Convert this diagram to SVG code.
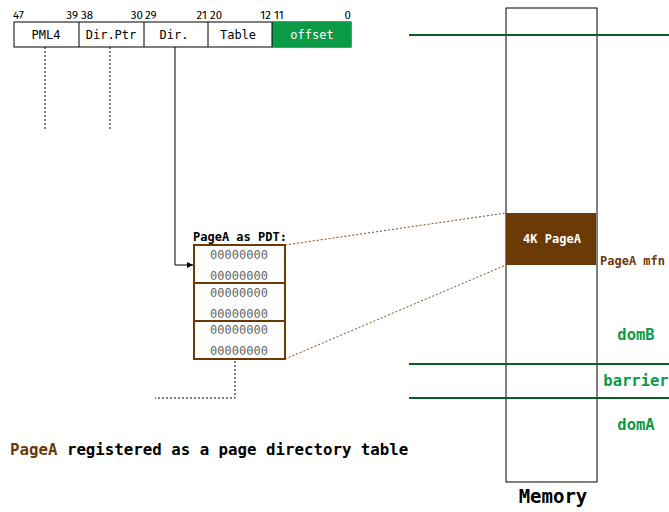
<svg xmlns="http://www.w3.org/2000/svg" width="669" height="512" viewBox="0 0 669 512">
  <defs>
    <marker id="arrow" viewBox="0 0 10 10" refX="10" refY="5" markerWidth="11" markerHeight="6" markerUnits="userSpaceOnUse" orient="auto">
      <path d="M0,0 L10,5 L0,10 z" fill="#000"/>
    </marker>
    <style>
      .bits { font-family: "Fira Sans", "Noto Sans", "DejaVu Sans", sans-serif; font-size: 11.5px; fill: #000; }
      .cell { font-family: "DejaVu Sans Mono", "Liberation Mono", monospace; font-size: 12px; fill: #000; text-anchor: middle; }
      .mono { font-family: "DejaVu Sans Mono", "Liberation Mono", monospace; font-weight: bold; }
      .zero { font-family: "DejaVu Sans Mono", "Liberation Mono", monospace; font-size: 12px; fill: #666; text-anchor: middle; }
      .dom { font-family: "DejaVu Sans Mono", monospace; font-weight: bold; font-size: 15.5px; fill: #0b9a45; text-anchor: middle; }
      .gline { stroke: #0b5e2a; stroke-width: 2; }
      .dot { stroke: #000; stroke-width: 1; stroke-dasharray: 2 2; fill: none; }
      .bdot { stroke: #7a4a1a; stroke-width: 1; stroke-dasharray: 2 2; fill: none; }
    </style>
  </defs>

  <!-- virtual address bit fields -->
  <g id="register">
    <rect x="14" y="22" width="337" height="25" fill="#fff" stroke="#000" stroke-width="1"/>
    <rect x="272" y="22" width="79" height="25" fill="#0b9a45"/>
    <line x1="79" y1="22" x2="79" y2="47" stroke="#000"/>
    <line x1="144" y1="22" x2="144" y2="47" stroke="#000"/>
    <line x1="208" y1="22" x2="208" y2="47" stroke="#000"/>
    <line x1="272" y1="22" x2="272" y2="47" stroke="#000"/>
    <text class="cell" x="46" y="39">PML4</text>
    <text class="cell" x="111" y="39">Dir.Ptr</text>
    <text class="cell" x="174" y="39">Dir.</text>
    <text class="cell" x="238" y="39">Table</text>
    <text class="cell" x="312" y="39" style="fill:#fff">offset</text>
    <text class="bits" x="13" y="19">47</text>
    <text class="bits" x="78" y="19" text-anchor="end">39</text>
    <text class="bits" x="81" y="19">38</text>
    <text class="bits" x="143" y="19" text-anchor="end">30</text>
    <text class="bits" x="145" y="19">29</text>
    <text class="bits" x="207" y="19" text-anchor="end">21</text>
    <text class="bits" x="210" y="19">20</text>
    <text class="bits" x="271" y="19" text-anchor="end">12</text>
    <text class="bits" x="274" y="19">11</text>
    <text class="bits" x="351" y="19" text-anchor="end">0</text>
  </g>

  <!-- page directory table view of PageA -->
  <g id="pdt">
    <text class="mono" x="193" y="241" font-size="12">PageA as PDT:</text>
    <rect x="194" y="245" width="91" height="38" fill="#fff" stroke="#6b3a06" stroke-width="2"/>
    <rect x="194" y="283" width="91" height="38" fill="#fff" stroke="#6b3a06" stroke-width="2"/>
    <rect x="194" y="321" width="91" height="38" fill="#fff" stroke="#6b3a06" stroke-width="2"/>
    <text class="zero" x="239" y="259">00000000</text>
    <text class="zero" x="239" y="280">00000000</text>
    <text class="zero" x="239" y="297">00000000</text>
    <text class="zero" x="239" y="318">00000000</text>
    <text class="zero" x="239" y="334">00000000</text>
    <text class="zero" x="239" y="355">00000000</text>
  </g>

  <!-- physical memory -->
  <g id="memory">
    <rect x="506" y="8" width="91" height="474" fill="#fff" stroke="#000" stroke-width="1"/>
    <text class="mono" x="553" y="503" font-size="19" text-anchor="middle">Memory</text>
  </g>

  <g id="pagea">
    <rect x="506" y="213" width="90" height="52" fill="#6b3a06"/>
    <text class="mono" x="552" y="243" font-size="12" fill="#fff" text-anchor="middle">4K PageA</text>
    <text class="mono" x="600" y="265" font-size="12" fill="#6b3a06">PageA mfn</text>
  </g>

  <g id="domains">
    <line class="gline" x1="409" y1="35" x2="669" y2="35"/>
    <line class="gline" x1="409" y1="364" x2="669" y2="364"/>
    <line class="gline" x1="409" y1="398" x2="669" y2="398"/>
    <text class="dom" x="636" y="340">domB</text>
    <text class="dom" x="636" y="386">barrier</text>
    <text class="dom" x="636" y="430">domA</text>
  </g>

  <g id="caption">
    <text class="mono" x="10" y="455" font-size="15.75"><tspan fill="#6b3a06">PageA</tspan> registered as a page directory table</text>
  </g>

  <!-- connectors -->
  <g id="connectors">
    <line class="dot" x1="45" y1="47" x2="45" y2="130"/>
    <line class="dot" x1="110" y1="47" x2="110" y2="130"/>
    <path d="M175,47 V265 H193" fill="none" stroke="#000" stroke-width="1" marker-end="url(#arrow)"/>
    <line class="bdot" x1="285" y1="245" x2="506" y2="213"/>
    <line class="bdot" x1="285" y1="359" x2="506" y2="265"/>
    <path class="dot" d="M235,361 V398 H155"/>
  </g>
</svg>
